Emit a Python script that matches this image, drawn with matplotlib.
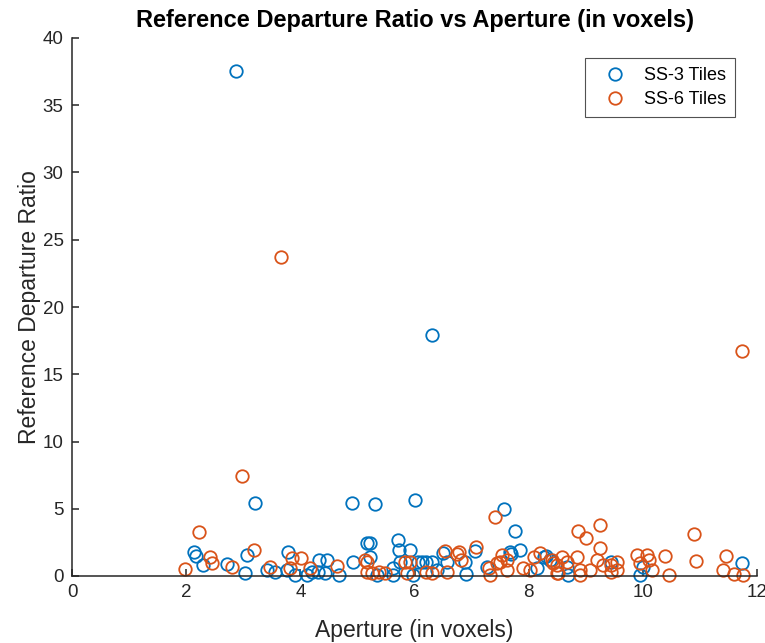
import matplotlib
matplotlib.use("Agg")
import matplotlib.pyplot as plt

plt.rcParams['font.family'] = ['Liberation Sans', 'DejaVu Sans']

# SS-3 tiles: aperture (voxels) and reference departure ratio
ss3_x = [2.87, 6.31, 3.21, 4.90, 2.13, 2.18, 2.30, 2.71, 3.06, 3.03, 3.41, 3.56, 3.79, 3.76,
         3.91, 4.11, 4.32, 4.46, 4.31, 4.44, 4.67, 4.93, 5.16, 5.31, 6.01, 7.57, 7.76, 5.22,
         5.71, 5.72, 5.92, 5.22, 7.85, 7.67, 7.69, 7.06, 6.89, 6.91, 6.50, 6.21, 6.13, 6.30,
         6.39, 5.74, 6.06, 5.63, 6.57, 8.26, 8.38, 8.14, 7.27, 5.34, 5.98, 5.63, 11.73, 9.95,
         10.00, 9.44, 8.69, 8.30, 8.67, 4.20]
ss3_y = [37.55, 17.92, 5.43, 5.43, 1.81, 1.49, 0.82, 0.89, 1.56, 0.25, 0.45, 0.33, 1.81, 0.45,
         0.07, 0.07, 1.19, 1.19, 0.33, 0.20, 0.07, 1.07, 2.43, 5.33, 5.65, 4.98, 3.35, 2.43,
         2.68, 1.93, 1.93, 1.44, 1.93, 1.81, 1.60, 1.86, 1.07, 0.15, 1.69, 1.07, 1.07, 1.07,
         0.45, 1.07, 1.07, 0.57, 1.07, 1.44, 1.20, 0.57, 0.70, 0.07, 0.07, 0.07, 0.99, 0.07,
         0.70, 1.07, 0.07, 1.50, 0.70, 0.30]

# SS-6 tiles: aperture (voxels) and reference departure ratio
ss6_x = [3.66, 11.74, 2.98, 1.98, 2.23, 2.42, 2.45, 2.80, 3.18, 3.47, 3.85, 4.02, 3.82, 4.17,
         4.64, 5.16, 7.41, 7.08, 6.78, 6.74, 6.53, 6.82, 8.20, 8.09, 7.53, 7.50, 7.44, 7.62,
         5.13, 5.16, 5.25, 5.48, 5.83, 5.92, 5.86, 6.21, 6.30, 6.57, 7.30, 7.33, 7.62, 7.90,
         8.02, 8.43, 8.52, 5.37, 9.25, 8.87, 9.00, 9.25, 10.90, 10.93, 11.45, 11.40, 11.59,
         11.76, 10.38, 10.46, 9.89, 10.07, 10.10, 10.16, 9.95, 9.54, 9.44, 9.44, 9.54, 9.19,
         9.31, 9.07, 8.90, 8.90, 8.84, 8.58, 8.67, 8.49, 8.49, 8.40]
ss6_y = [23.72, 16.73, 7.43, 0.52, 3.30, 1.44, 0.99, 0.65, 1.93, 0.65, 1.31, 1.31, 0.57, 0.57,
         0.74, 1.07, 4.41, 2.13, 1.81, 1.60, 1.86, 1.19, 1.69, 1.44, 1.56, 1.07, 0.99, 1.20,
         1.19, 0.33, 0.20, 0.20, 1.07, 1.07, 0.20, 0.33, 0.20, 0.33, 0.57, 0.07, 0.45, 0.60,
         0.45, 0.97, 0.20, 0.33, 3.79, 3.35, 2.85, 2.06, 3.10, 1.12, 1.49, 0.45, 0.15,
         0.07, 1.49, 0.07, 1.56, 1.56, 1.19, 0.45, 0.94, 1.07, 0.82, 0.33, 0.45, 1.19,
         0.82, 0.45, 0.45, 0.07, 1.44, 1.44, 1.07, 0.82, 0.20, 1.20]

blue = '#0072BD'
orange = '#D95319'
ink = '#262626'

W, H = 765, 643
fig = plt.figure(figsize=(W / 100, H / 100), dpi=100)
ax = fig.add_axes([72 / W, 1 - 576 / H, (757 - 72) / W, (576 - 38) / H])

ax.plot(ss3_x, ss3_y, 'o', mfc='none', mec=blue, ms=9, mew=1.3, label='SS-3 Tiles', clip_on=False)
ax.plot(ss6_x, ss6_y, 'o', mfc='none', mec=orange, ms=9, mew=1.3, label='SS-6 Tiles', clip_on=False)

ax.set_xlim(0, 12)
ax.set_ylim(0, 40)
ax.set_xticks(range(0, 13, 2))
ax.set_yticks(range(0, 41, 5))

for side in ('top', 'right'):
    ax.spines[side].set_visible(False)
for side in ('left', 'bottom'):
    ax.spines[side].set_color(ink)
    ax.spines[side].set_linewidth(1.1)
ax.tick_params(direction='in', length=5, width=1.1, colors=ink, labelsize=13.5, pad=6)

ax.set_xlabel('Aperture (in voxels)', fontsize=16.5, color=ink, labelpad=13)
ax.set_ylabel('Reference Departure Ratio', fontsize=16.5, color=ink, labelpad=1)
ax.set_title('Reference Departure Ratio vs Aperture (in voxels)', fontsize=17,
             fontweight='bold', color='black', pad=8)

# legend box anchored by its upper-right corner
anchor = ax.transAxes.inverted().transform(fig.transFigure.transform((735 / W, 1 - 58 / H)))
leg = ax.legend(loc='upper right', bbox_to_anchor=tuple(anchor), borderaxespad=0,
                fontsize=13, frameon=True, fancybox=False, edgecolor=ink,
                borderpad=0.5, handletextpad=0.45, labelspacing=0.4, handlelength=2.3)
leg.get_frame().set_linewidth(0.8)

fig.savefig('out.png', dpi=100)
